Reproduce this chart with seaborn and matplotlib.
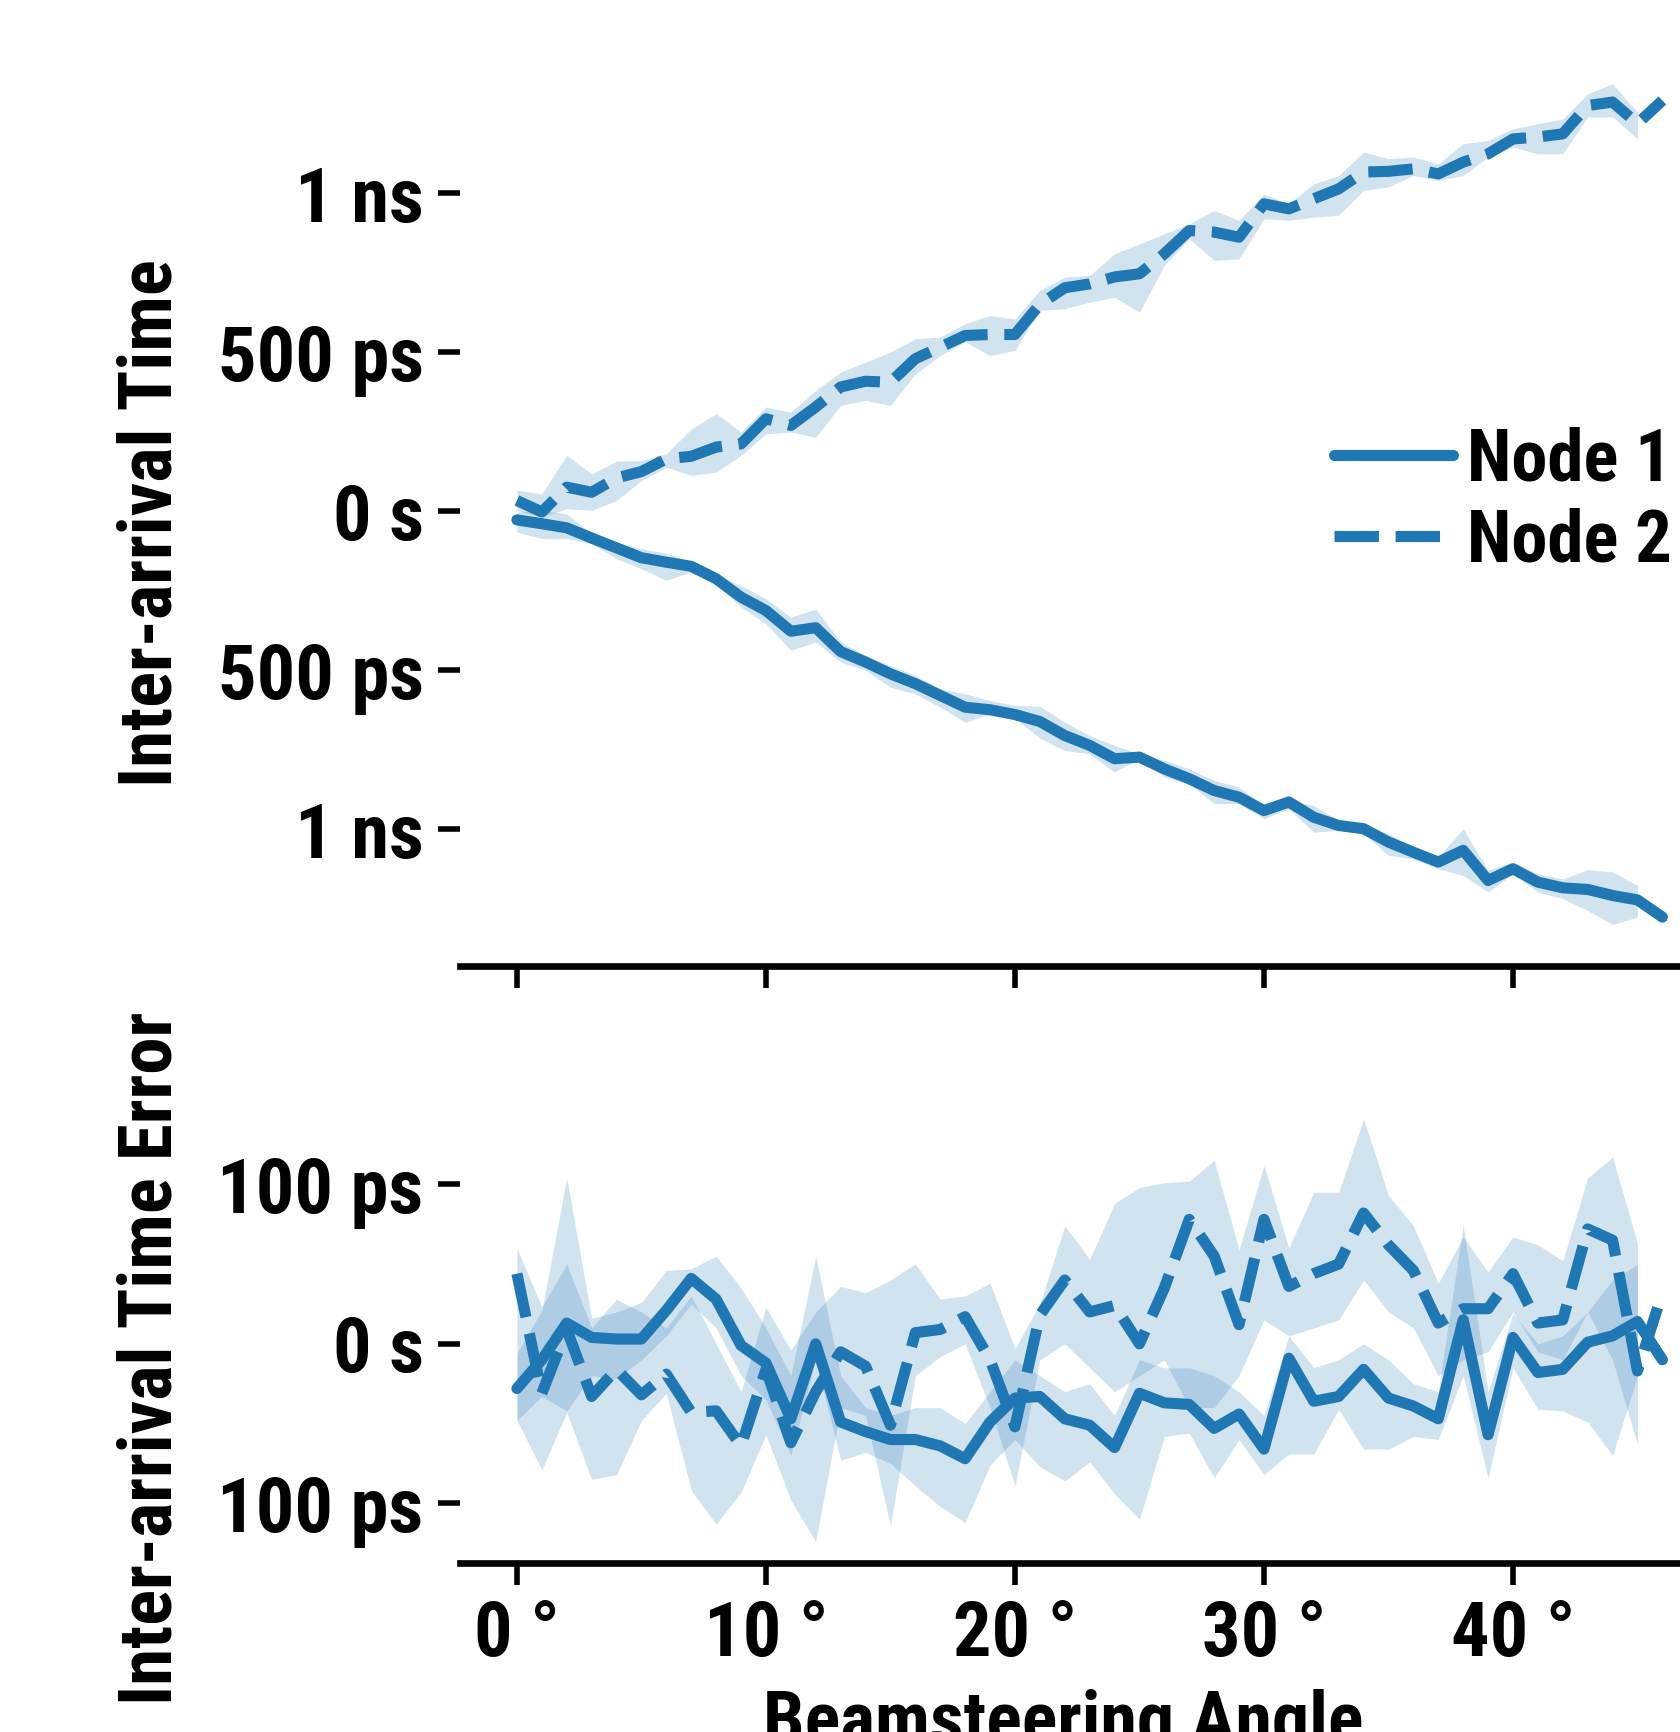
import numpy as np
import pandas as pd
import matplotlib
matplotlib.use("Agg")
import matplotlib.pyplot as plt
import matplotlib.ticker as mticker
import seaborn as sns

# Beamsteering angles (degrees)
angles = [0, 1, 2, 3, 4, 5, 6, 7, 8, 9, 10, 11, 12, 13, 14, 15, 16, 17, 18, 19,
          20, 21, 22, 23, 24, 25, 26, 27, 28, 29, 30, 31, 32, 33, 34, 35, 36, 37,
          38, 39, 40, 41, 42, 43, 44, 45, 46]
nodes = ["Node 1", "Node 2"]
nan = np.nan

# Inter-arrival time, mean and confidence band (picoseconds)
iat_node1 = [-28, -40, -53, -85, -116, -147, -161, -174, -213, -271, -313, -378, -367,
             -442, -475, -512, -543, -580, -617, -625, -640, -662, -706, -737, -779,
             -774, -811, -842, -879, -900, -942, -915, -963, -989, -999, -1041, -1073,
             -1104, -1067, -1162, -1125, -1167, -1185, -1190, -1209, -1223, -1277]
iat_node1_lo = [-66, -87, -87, -103, -150, -182, -218, -192, -229, -302, -355, -438, -412,
                -475, -501, -554, -575, -617, -664, -638, -653, -714, -753, -764, -821,
                -779, -837, -858, -920, -920, -968, -936, -1010, -1004, -1015, -1083,
                -1094, -1125, -1146, -1198, -1141, -1198, -1219, -1256, -1300, -1277, nan]
iat_node1_hi = [-3, 2, -9, -72, -98, -119, -132, -161, -203, -234, -276, -334, -308,
                -412, -454, -486, -517, -559, -575, -596, -611, -614, -664, -706, -737,
                -764, -784, -811, -847, -868, -926, -910, -926, -973, -989, -1015, -1057,
                -1088, -999, -1130, -1104, -1141, -1157, -1128, -1135, -1177, nan]

iat_node2 = [33, -3, 75, 59, 104, 124, 164, 172, 201, 211, 290, 269, 327, 390, 408, 405,
             479, 515, 552, 555, 555, 650, 702, 714, 736, 746, 809, 882, 877, 861, 966,
             950, 982, 1013, 1066, 1068, 1076, 1060, 1097, 1123, 1170, 1176, 1186, 1275,
             1286, 1218, 1291]
iat_node2_lo = [2, -19, 7, 2, 33, 96, 138, 112, 122, 175, 243, 248, 232, 332, 348, 332,
                431, 489, 532, 489, 505, 631, 636, 657, 672, 625, 772, 856, 788, 793, 919,
                914, 924, 930, 1008, 1019, 1055, 1040, 1055, 1113, 1145, 1123, 1123, 1239,
                1239, 1170, nan]
iat_node2_hi = [65, 54, 175, 117, 157, 159, 180, 258, 306, 248, 327, 311, 379, 437, 468,
                500, 542, 547, 589, 615, 604, 694, 736, 741, 809, 840, 872, 903, 945, 914,
                997, 966, 1029, 1055, 1129, 1108, 1113, 1092, 1155, 1165, 1202, 1218, 1233,
                1312, 1344, 1254, nan]

# Inter-arrival time error, mean and confidence band (picoseconds)
err_node1 = [-28, -10, 13, 4, 3, 3, 21, 41, 28, -1, -12, -47, 0, -49, -55, -60, -60, -64,
             -72, -49, -34, -33, -47, -51, -65, -31, -37, -38, -53, -44, -66, -9, -36,
             -33, -16, -34, -39, -47, 15, -57, 4, -18, -16, 1, 5, 14, -10]
err_node1_lo = [-48, -33, -42, -20, -22, -10, 5, 25, 10, -20, -35, -70, -10, -73, -68,
                -75, -89, -102, -112, -76, -60, -77, -86, -74, -94, -110, -58, -56, -84,
                -60, -82, -69, -69, -41, -66, -66, -58, -60, -20, -84, -15, -41, -42, -49,
                -70, -20, nan]
err_node1_hi = [-6, 21, 104, 16, 20, 26, 46, 47, 55, 35, 10, -20, 55, -20, -40, -45, -40,
                -40, -50, -30, -10, -20, -30, -25, -45, -10, -15, -15, -20, -30, -45, 5,
                -15, -10, 0, -10, -25, -30, 75, -30, 19, 0, 5, 20, 40, 50, nan]

err_node2 = [44, -31, 9, -33, -16, -32, -19, -43, -42, -64, -16, -62, -30, -5, -14, -51,
             7, 9, 17, -10, -52, 18, 40, 20, 24, 0, 35, 78, 55, 12, 78, 36, 44, 50, 82,
             62, 46, 13, 22, 22, 44, 13, 15, 72, 65, -17, 32]
err_node2_lo = [-48, -79, -43, -85, -82, -48, -31, -92, -113, -93, -57, -98, -124, -40,
                -45, -114, -20, -8, 0, -40, -89, -10, 0, -15, -30, -20, -10, -40, -40,
                -20, 15, 5, 10, 15, 40, 20, 10, -20, -10, -5, 20, -5, -10, 20, -10, -63,
                nan]
err_node2_hi = [60, 23, 50, 10, 28, 20, 10, 30, 0, -30, 23, -4, 20, 36, 32, 40, 50, 28,
                30, 38, -3, 25, 74, 53, 88, 98, 101, 102, 115, 59, 112, 60, 95, 95, 141,
                93, 74, 38, 67, 45, 67, 62, 52, 104, 117, 63, nan]

PS = 1e-12
LINE_W = 4
DPI = 200
BLUE = sns.color_palette()[0]

sns.set_theme(context="poster", style="ticks")
FONTS = ["Roboto Condensed", "Open Sans Condensed", "Liberation Sans Narrow",
         "DejaVu Sans"]
plt.rcParams.update({
    "font.family": FONTS,
    "font.stretch": "condensed",
    "font.weight": 900,
    "axes.labelweight": 900,
    "text.color": "black",
    "axes.labelcolor": "black",
    "xtick.color": "black",
    "ytick.color": "black",
    "axes.edgecolor": "black",
    "axes.linewidth": 2.4,
    "xtick.major.width": 2.0,
    "ytick.major.width": 2.0,
    "xtick.major.size": 8,
    "ytick.major.size": 8,
    "xtick.major.pad": 5,
    "ytick.major.pad": 5,
    "xtick.labelsize": 26,
    "ytick.labelsize": 26,
    "axes.labelsize": 27,
    "legend.fontsize": 26,
})


def long_frame(series):
    rows = []
    for name, vals in zip(nodes, series):
        for a, v in zip(angles, vals):
            rows.append({"angle": a, "node": name, "value": v * PS})
    return pd.DataFrame(rows)


eng_s = mticker.EngFormatter(unit="s", places=0)
abs_time = mticker.FuncFormatter(lambda v, pos: eng_s(abs(v)))
deg_fmt = mticker.EngFormatter(unit="\u00b0", places=0)

fig = plt.figure(figsize=(8.4, 8.66), dpi=DPI)
ax_top = fig.add_axes([0.2736, 0.4420, 0.75, 0.5340])
ax_bot = fig.add_axes([0.2736, 0.0977, 0.75, 0.2685], sharex=ax_top)

panels = [
    (ax_top, (iat_node1, iat_node2),
     ((iat_node1_lo, iat_node1_hi), (iat_node2_lo, iat_node2_hi)),
     "Inter-arrival Time", 500 * PS, True),
    (ax_bot, (err_node1, err_node2),
     ((err_node1_lo, err_node1_hi), (err_node2_lo, err_node2_hi)),
     "Inter-arrival Time Error", 100 * PS, False),
]

for ax, means, bands, ylabel, step, show_legend in panels:
    df = long_frame(means)
    for lo, hi in bands:
        ax.fill_between(angles, np.array(lo) * PS, np.array(hi) * PS,
                        color=BLUE, alpha=0.2, linewidth=0)
    sns.lineplot(data=df, x="angle", y="value", style="node", style_order=nodes,
                 color=BLUE, linewidth=LINE_W, errorbar=None, ax=ax,
                 legend=show_legend)
    ax.yaxis.set_major_locator(mticker.MultipleLocator(step))
    ax.yaxis.set_major_formatter(abs_time)
    ax.set_ylabel(ylabel, labelpad=11)
    sns.despine(ax=ax, left=True)

ax_top.xaxis.set_major_locator(mticker.MultipleLocator(10))
ax_bot.xaxis.set_major_formatter(deg_fmt)
ax_top.tick_params(axis="x", labelbottom=False)
ax_top.set_xlabel("")
ax_bot.set_xlabel("Beamsteering Angle", labelpad=6)

handles, labels = ax_top.get_legend_handles_labels()
leg = ax_top.legend(handles, labels, loc="center right", frameon=False)


# Size each text so its drawn length (in pixels) suits the panel layout,
# whichever condensed face the system resolves.
def text_length(txt):
    fig.canvas.draw()
    bb = txt.get_window_extent(fig.canvas.get_renderer())
    return max(bb.width, bb.height)


def fit_size(txt, length_px):
    return txt.get_fontsize() * length_px / text_length(txt)


label_size = fit_size(ax_top.yaxis.label, 528)
for ax in (ax_top, ax_bot):
    ax.yaxis.label.set_fontsize(label_size)
ax_bot.xaxis.label.set_fontsize(fit_size(ax_bot.xaxis.label, 600))

legend_size = fit_size(leg.get_texts()[0], 205)
em_px = legend_size * DPI / 72
leg.remove()
leg = ax_top.legend(handles, labels, loc="center right",
                    bbox_to_anchor=(0.962, 0.503), frameon=False,
                    fontsize=legend_size, borderpad=0, borderaxespad=0,
                    handlelength=119 / em_px, handletextpad=14 / em_px,
                    labelspacing=0.17)
for line in leg.get_lines():
    line.set_linewidth(LINE_W)

fig.canvas.draw()
probe = [t for t in ax_top.get_yticklabels() if t.get_text() == "500 ps"][0]
tick_size = probe.get_fontsize() * 206 / text_length(probe)
for ax in (ax_top, ax_bot):
    ax.tick_params(labelsize=tick_size)

fig.align_ylabels([ax_top, ax_bot])
# Label placement along each axis
ax_top.yaxis.label.set_y(0.4795)
ax_bot.yaxis.label.set_y(0.440)
ax_bot.xaxis.label.set_x(0.4788)

fig.savefig("out.png", dpi=DPI)
